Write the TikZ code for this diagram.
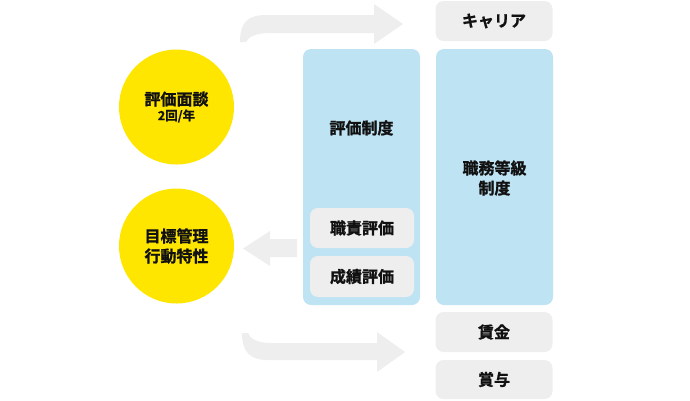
\documentclass[tikz,border=0pt]{standalone}
\usepackage{fontspec}
\setmainfont{Noto Sans CJK JP Bold}[FakeBold=1.2]
\definecolor{boxgray}{HTML}{EEEEEE}
\definecolor{boxblue}{HTML}{BEE3F3}
\definecolor{circyellow}{HTML}{FFE600}
\definecolor{arrowgray}{HTML}{EEEEEE}
\definecolor{txt}{HTML}{111111}
\tikzset{
  graybox/.style={fill=boxgray, rounded corners=8pt, inner sep=0pt, font=\fontsize{16}{18}\selectfont, text=txt},
  bluebox/.style={fill=boxblue, rounded corners=8pt, inner sep=0pt},
  yelcirc/.style={circle, fill=circyellow, minimum size=115pt, inner sep=0pt, align=center, font=\fontsize{16}{20}\selectfont, text=txt},
  lbl/.style={font=\fontsize{16}{20}\selectfont, text=txt, align=center, inner sep=0pt},
  bigarrow/.style={fill=arrowgray, draw=none}
}
\begin{document}
\begin{tikzpicture}[x=1pt,y=-1pt]
\useasboundingbox (0,0) rectangle (690,400);
% arrows
\fill[bigarrow] (240,42) .. controls (240,22) and (248,15) .. (266,15) -- (374,15) -- (374,4) -- (403,24) -- (374,44) -- (374,33) -- (270,33) .. controls (256,33) and (248,37) .. (246,42) -- cycle;
\fill[bigarrow] (242,333) .. controls (242,352) and (250,360) .. (268,360) -- (377,360) -- (377,372) -- (405,352) -- (377,332) -- (377,343) -- (272,343) .. controls (258,343) and (250,339) .. (248,333) -- cycle;
\fill[bigarrow] (297,239) -- (270,239) -- (270,231) -- (243,248.5) -- (270,266) -- (270,257) -- (297,257) -- cycle;
% circles
\node[yelcirc] (c1) at (176.5,107) {評価面談\\[-5pt]{\fontsize{12.5}{13}\selectfont 2回/年}};
\node[yelcirc] (c2) at (176.5,246) {目標管理\\行動特性};
% middle blue box
\node[bluebox, minimum width=117pt, minimum height=256pt] (hyoka) at (361.5,177) {};
\node[lbl] (hyokat) at (361.5,128) {評価制度};
\node[graybox, minimum width=104pt, minimum height=40pt] (shokuseki) at (362,228) {職責評価};
\node[graybox, minimum width=104pt, minimum height=41pt] (seiseki) at (362,276.5) {成績評価};
% right column
\node[graybox, minimum width=117pt, minimum height=40pt] (career) at (494,21) {キャリア};
\node[bluebox, minimum width=117pt, minimum height=256pt] (tokyu) at (494.5,177) {};
\node[lbl] (tokyut) at (494.5,178) {職務等級\\制度};
\node[graybox, minimum width=117pt, minimum height=40pt] (chingin) at (494,332) {賃金};
\node[graybox, minimum width=117pt, minimum height=39pt] (shoyo) at (494,379.5) {賞与};
\end{tikzpicture}
\end{document}
